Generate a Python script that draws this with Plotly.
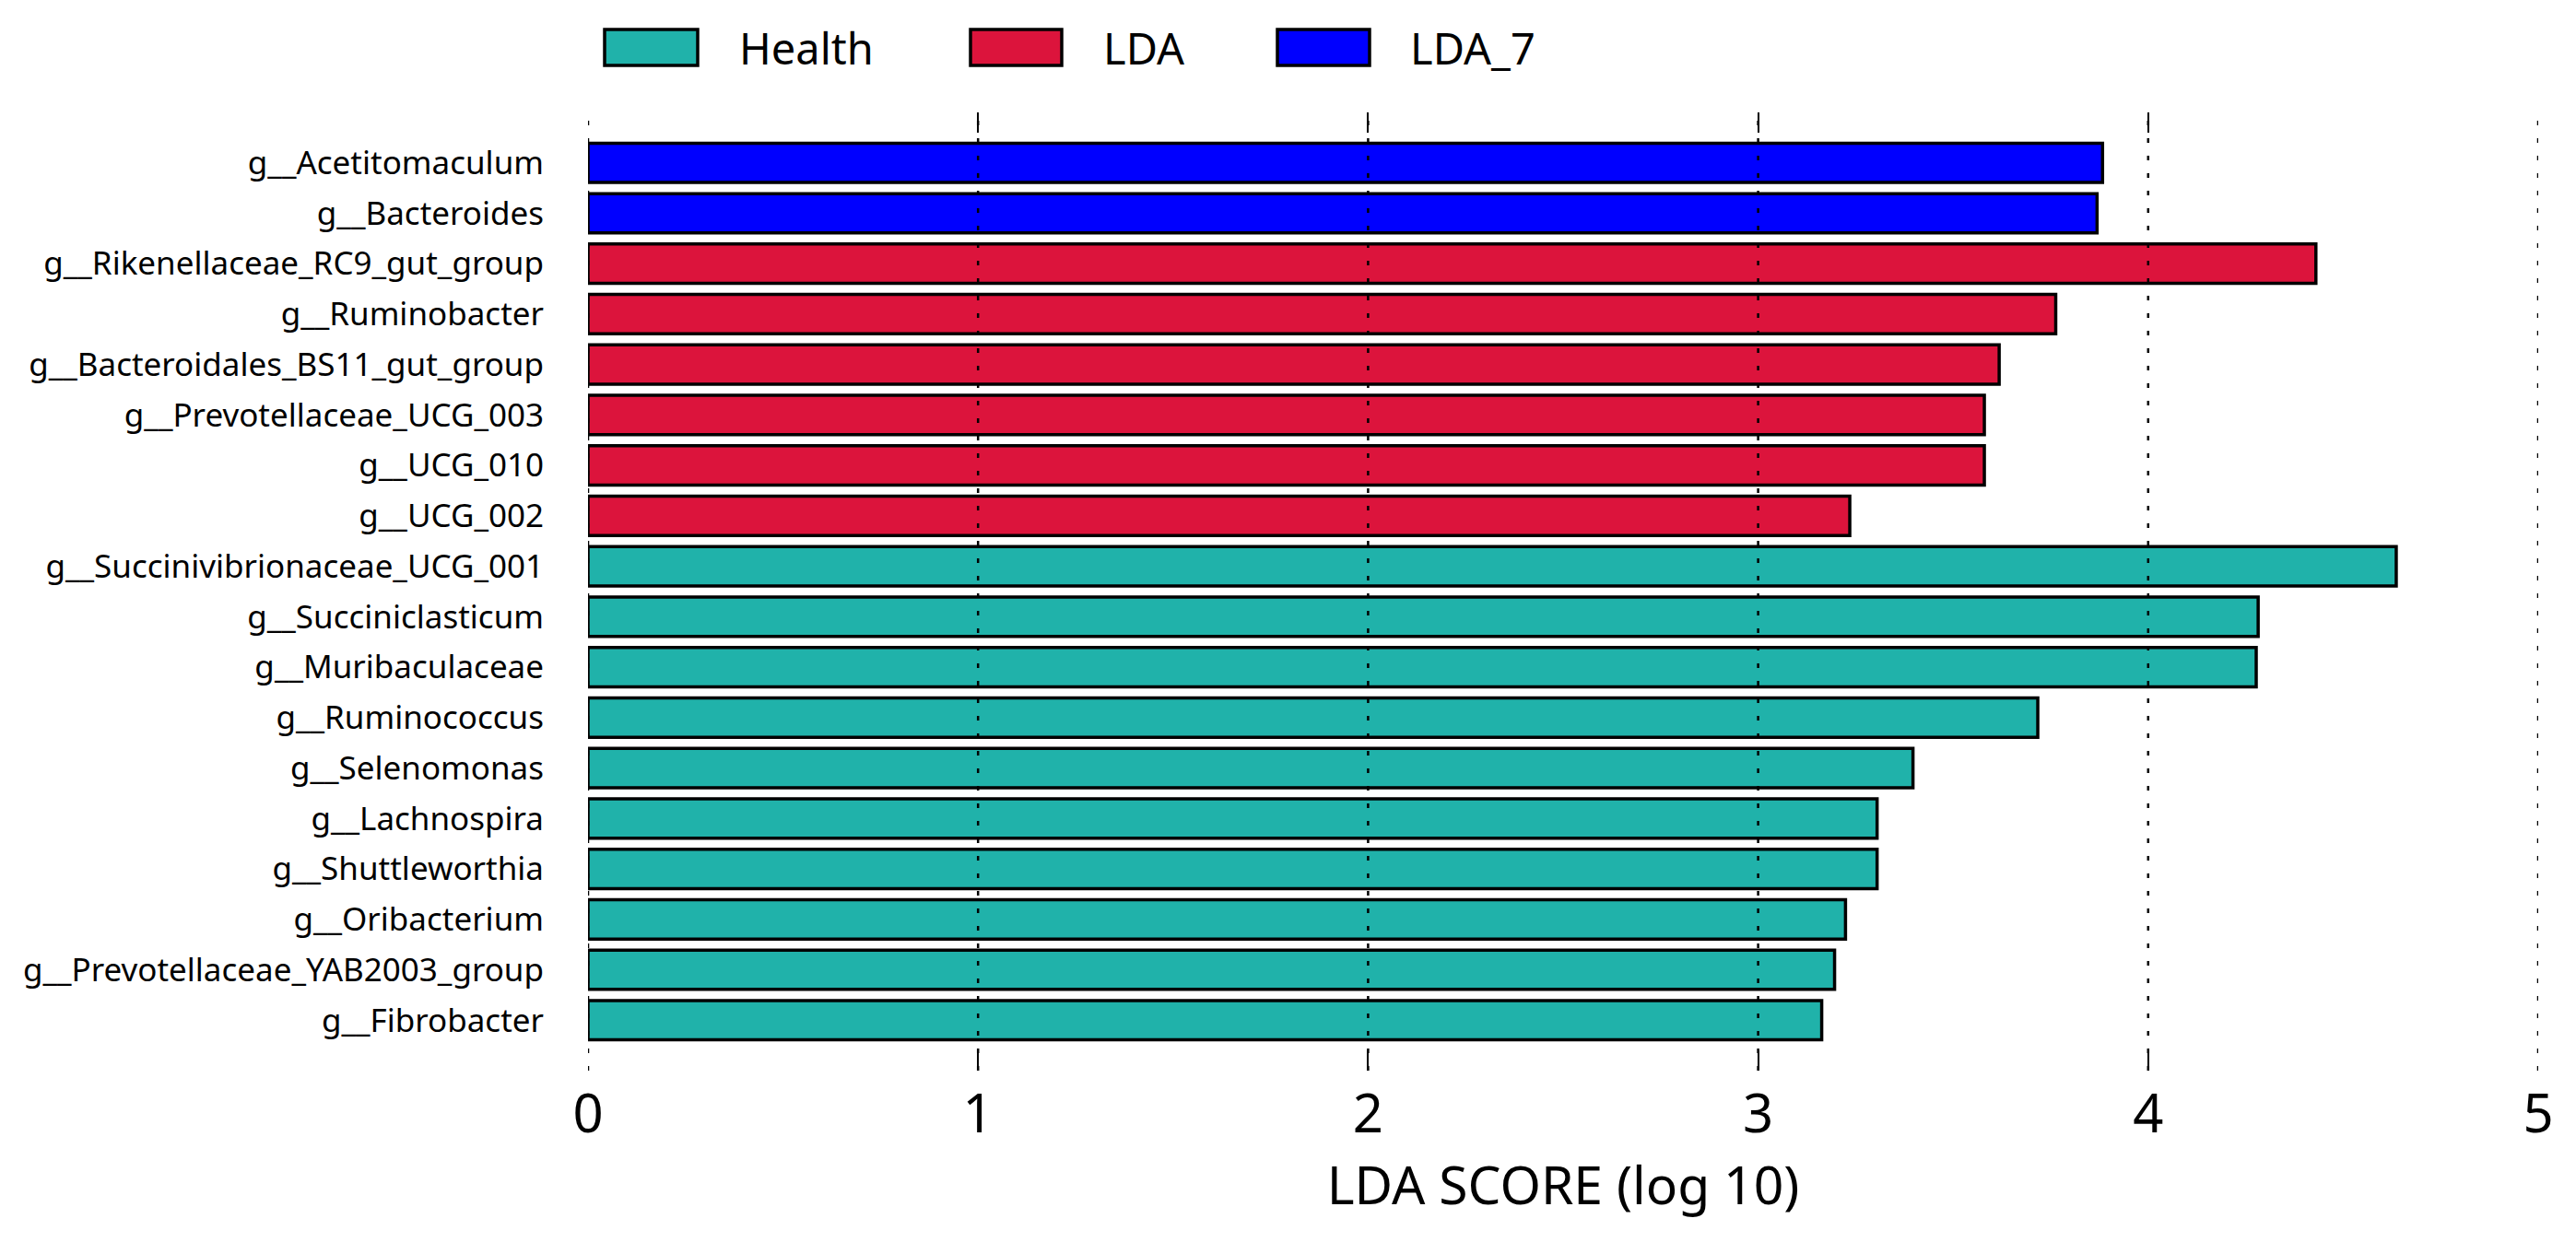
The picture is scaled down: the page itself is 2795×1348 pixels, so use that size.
import plotly.graph_objects as go

# taxa, top to bottom as in the LEfSe plot
taxa = ["g__Acetitomaculum", "g__Bacteroides", "g__Rikenellaceae_RC9_gut_group",
        "g__Ruminobacter", "g__Bacteroidales_BS11_gut_group", "g__Prevotellaceae_UCG_003",
        "g__UCG_010", "g__UCG_002", "g__Succinivibrionaceae_UCG_001", "g__Succiniclasticum",
        "g__Muribaculaceae", "g__Ruminococcus", "g__Selenomonas", "g__Lachnospira",
        "g__Shuttleworthia", "g__Oribacterium", "g__Prevotellaceae_YAB2003_group",
        "g__Fibrobacter"]
lda_score = [3.883, 3.869, 4.430, 3.763, 3.618, 3.580, 3.580, 3.235, 4.636, 4.282,
             4.277, 3.717, 3.397, 3.305, 3.305, 3.224, 3.196, 3.163]
group = ["LDA_7", "LDA_7", "LDA", "LDA", "LDA", "LDA", "LDA", "LDA",
         "Health", "Health", "Health", "Health", "Health", "Health", "Health",
         "Health", "Health", "Health"]

groups = ["Health", "LDA", "LDA_7"]
colors = {"Health": "#20B2AA", "LDA": "#DC143C", "LDA_7": "#0000FF"}
x_ticks = [0, 1, 2, 3, 4, 5]

# page coordinates wanted for the plot area; the html body adds 8px all round
W, H = 2795, 1348
L, R, T, B = 638, 41, 122, 186
PAD = 8
FONT = "Noto Sans"


def px_x(px):
    return (px - L) / (W - L - R)


def px_y(py):
    return (H - B - py) / (H - T - B)


fig = go.Figure()
for g in groups:
    ys = [t for t, gg in zip(taxa, group) if gg == g]
    xs = [v for v, gg in zip(lda_score, group) if gg == g]
    fig.add_trace(go.Bar(
        x=xs, y=ys, orientation="h", name=g, showlegend=False,
        marker=dict(color=colors[g], line=dict(color="black", width=3.5)),
        width=0.78,
    ))

# dotted grid drawn over the bars, like the original
for v in x_ticks:
    fig.add_shape(type="line", xref="x", yref="paper", x0=v, x1=v, y0=0, y1=1,
                  line=dict(color="black", width=2.5, dash="5px,14px"), layer="above")

# legend boxes along the top
legend_pos = {"Health": (656, 757, 800), "LDA": (1053, 1152, 1195), "LDA_7": (1386, 1486, 1528)}
for g in groups:
    x0, x1, xt = legend_pos[g]
    fig.add_shape(type="rect", xref="paper", yref="paper",
                  x0=px_x(x0), x1=px_x(x1), y0=px_y(71), y1=px_y(32),
                  fillcolor=colors[g], line=dict(color="black", width=3.5))
    fig.add_annotation(text=g, xref="paper", yref="paper", x=px_x(xt), y=px_y(52),
                       xanchor="left", yanchor="middle", showarrow=False,
                       font=dict(family=FONT, size=47, color="black"))

fig.update_layout(
    width=W - 2 * PAD, height=H - 2 * PAD,
    margin=dict(l=L - PAD, r=R - PAD, t=T - PAD, b=B - PAD),
    plot_bgcolor="white", paper_bgcolor="white",
    bargap=0.2,
    xaxis=dict(range=[0, 5], tickvals=x_ticks, showgrid=False, zeroline=False,
               ticks="inside", ticklen=22, tickwidth=2, tickcolor="black", mirror="ticks",
               tickfont=dict(family=FONT, size=58, color="black"), ticklabelstandoff=8,
               title=dict(text="LDA SCORE (log 10)", standoff=5,
                          font=dict(family=FONT, size=57, color="black"))),
    yaxis=dict(categoryorder="array", categoryarray=taxa, range=[len(taxa), -1],
               showgrid=False, zeroline=False, ticks="", ticklabelstandoff=47,
               tickfont=dict(family=FONT, size=35, color="black")),
)

fig.write_html("out.html")
